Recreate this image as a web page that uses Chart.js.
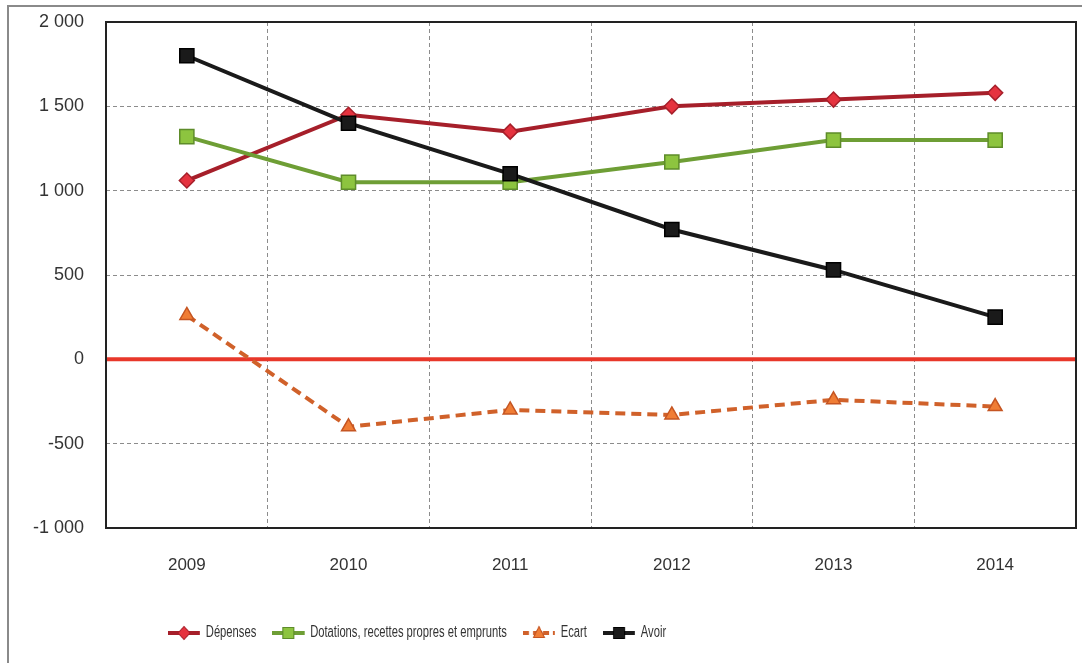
<!DOCTYPE html>
<html>
<head>
<meta charset="utf-8">
<script src="https://cdn.jsdelivr.net/npm/chart.js@4/dist/chart.umd.min.js"></script>
<style>
  html, body { margin: 0; padding: 0; background: #fff; overflow: hidden; }
  #wrap { width: 1082px; height: 663px; }
  canvas { display: block; }
</style>
</head>
<body>
<div id="wrap"><canvas id="c" width="1082" height="663"></canvas></div>
<script>
const categories = ['2009', '2010', '2011', '2012', '2013', '2014'];
const depenses   = [1060, 1450, 1350, 1500, 1540, 1580];
const dotations  = [1320, 1050, 1050, 1170, 1300, 1300];
const ecart      = [260, -400, -300, -330, -240, -280];
const avoir      = [1800, 1400, 1100, 770, 530, 250];
const seriesNames = ['Dépenses', 'Dotations, recettes propres et emprunts', 'Ecart', 'Avoir'];
const yMin = -1000, yMax = 2000, yStep = 500;

const SQUEEZE = 0.7;

const styles = [
  { line: '#A61F2A', fill: '#E5333F', edge: '#A61F2A', shape: 'rectRot', r: 7.5, dash: [] },
  { line: '#6E9E35', fill: '#8DC43F', edge: '#5E8C2A', shape: 'rect', r: 10, dash: [] },
  { line: '#D0612A', fill: '#F07D35', edge: '#C55522', shape: 'triangle', r: 8, dash: [10, 6] },
  { line: '#1A1A1A', fill: '#1A1A1A', edge: '#000000', shape: 'rect', r: 10, dash: [] }
];

const ICON_W = 32;
const ICON_W_RAW = Math.ceil(ICON_W / SQUEEZE);
function makeIcon(s) {
  const c = document.createElement('canvas');
  c.width = ICON_W_RAW; c.height = 16;
  const g = c.getContext('2d');
  g.scale(1 / SQUEEZE, 1);
  g.strokeStyle = s.line; g.lineWidth = 4;
  g.setLineDash(s.dash.length ? [6, 4] : []);
  g.beginPath();
  g.moveTo(0, 8); g.lineTo(ICON_W, 8);
  g.stroke();
  g.setLineDash([]);
  g.fillStyle = s.fill; g.strokeStyle = s.edge; g.lineWidth = 1;
  g.beginPath();
  const cx = ICON_W / 2, cy = 8;
  if (s.shape === 'rectRot') {
    g.moveTo(cx - 6, cy); g.lineTo(cx, cy - 6.5); g.lineTo(cx + 6, cy); g.lineTo(cx, cy + 6.5); g.closePath();
  } else if (s.shape === 'rect') {
    g.rect(cx - 5.5, cy - 5.5, 11, 11);
  } else {
    g.moveTo(cx, cy - 6.5); g.lineTo(cx + 5.5, cy + 4.5); g.lineTo(cx - 5.5, cy + 4.5); g.closePath();
  }
  g.fill(); g.stroke();
  return c;
}
const icons = styles.map(makeIcon);

const seriesData = [depenses, dotations, ecart, avoir];
const orders = [4, 3, 2, 1];
const datasets = seriesData.map((d, i) => ({
  label: seriesNames[i],
  data: d,
  order: orders[i],
  borderColor: styles[i].line,
  backgroundColor: styles[i].fill,
  borderWidth: 4,
  borderDash: styles[i].dash,
  tension: 0,
  pointStyle: styles[i].shape,
  pointRadius: styles[i].r,
  pointHoverRadius: styles[i].r,
  pointBackgroundColor: styles[i].fill,
  pointBorderColor: styles[i].edge,
  pointBorderWidth: 1.5,
  fill: false
}));

function fmt(v) {
  const neg = v < 0;
  const s = String(Math.abs(v)).replace(/\B(?=(\d{3})+(?!\d))/g, ' ');
  return (neg ? '-' : '') + s;
}

const LEGEND_PAD = Math.round(16 / SQUEEZE);
const LEGEND_START = 168;

const framePlugin = {
  id: 'frame',
  beforeDraw(chart) {
    const ctx = chart.ctx;
    ctx.save();
    ctx.fillStyle = '#ffffff';
    ctx.fillRect(0, 0, chart.width, chart.height);
    ctx.strokeStyle = '#8a8a8a';
    ctx.lineWidth = 2;
    ctx.beginPath();
    ctx.moveTo(8, chart.height);
    ctx.lineTo(8, 6);
    ctx.lineTo(chart.width, 6);
    ctx.stroke();
    ctx.restore();
  },
  afterLayout(chart) {
    const L = chart.legend;
    if (!L) return;
    L.left = LEGEND_START - LEGEND_PAD;
    if (!L._squeezed) {
      const orig = L.draw.bind(L);
      L.draw = function (area) {
        const ctx = chart.ctx;
        const ax = LEGEND_START;
        ctx.save();
        ctx.translate(ax, 0);
        ctx.scale(SQUEEZE, 1);
        ctx.translate(-ax, 0);
        orig(area);
        ctx.restore();
      };
      L._squeezed = true;
    }
  },
  beforeDatasetsDraw(chart) {
    const ctx = chart.ctx, a = chart.chartArea, y = chart.scales.y;
    ctx.save();
    const y0 = y.getPixelForValue(0);
    ctx.strokeStyle = '#E8372A';
    ctx.lineWidth = 4;
    ctx.beginPath();
    ctx.moveTo(a.left, y0); ctx.lineTo(a.right, y0);
    ctx.stroke();
    ctx.strokeStyle = '#222222';
    ctx.lineWidth = 2;
    ctx.strokeRect(a.left, a.top, a.right - a.left, a.bottom - a.top);
    ctx.restore();
  }
};

new Chart(document.getElementById('c'), {
  type: 'line',
  data: { labels: categories, datasets: datasets },
  plugins: [framePlugin],
  options: {
    responsive: false,
    animation: false,
    layout: { autoPadding: false, padding: { top: 22, right: 6, left: 0, bottom: 12 } },
    plugins: {
      tooltip: { enabled: false },
      legend: {
        position: 'bottom',
        align: 'start',
        labels: {
          usePointStyle: true,
          pointStyleWidth: ICON_W_RAW,
          padding: LEGEND_PAD,
          color: '#333333',
          font: { family: "'Liberation Sans', sans-serif", size: 16 },
          sort: (a, b) => a.datasetIndex - b.datasetIndex,
          generateLabels(chart) {
            return chart.data.datasets.map((ds, i) => ({
              text: ds.label,
              datasetIndex: i,
              pointStyle: icons[i],
              fillStyle: ds.backgroundColor,
              strokeStyle: ds.borderColor,
              lineWidth: 0,
              hidden: false,
              fontColor: '#333333'
            }));
          }
        }
      }
    },
    scales: {
      x: {
        offset: true,
        grid: { offset: true, drawTicks: false, color: '#8c8c8c', lineWidth: 1 },
        border: { display: false, dash: [4, 3] },
        ticks: { padding: 27, color: '#333333', font: { family: "'Liberation Sans', sans-serif", size: 17 } },
        afterFit(scale) { scale.height = 74; scale.paddingLeft = 0; scale.paddingRight = 0; }
      },
      y: {
        min: yMin, max: yMax,
        ticks: {
          stepSize: yStep,
          padding: 22,
          color: '#333333',
          font: { family: "'Liberation Sans', sans-serif", size: 18 },
          callback: (v) => fmt(v)
        },
        grid: {
          drawTicks: false,
          color: (c) => (c.tick && c.tick.value === 0) ? 'rgba(0,0,0,0)' : '#8c8c8c',
          lineWidth: 1
        },
        border: { display: false, dash: [4, 3] },
        afterFit(scale) { scale.width = 106; scale.paddingTop = 0; scale.paddingBottom = 0; }
      }
    }
  }
});
</script>
</body>
</html>
